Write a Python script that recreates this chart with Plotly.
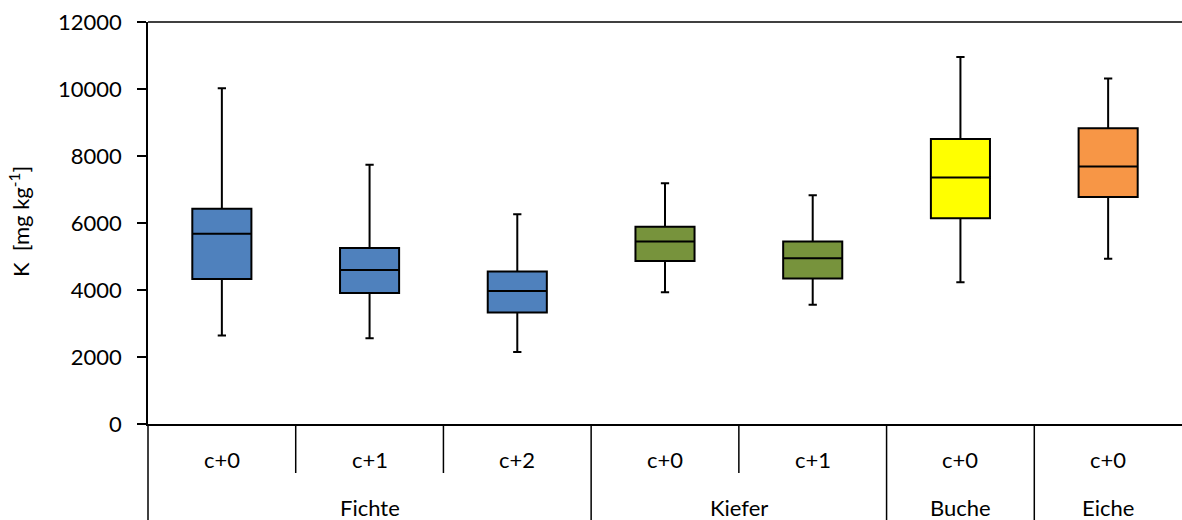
import plotly.graph_objects as go

# ---- data ----
species = ["Fichte", "Fichte", "Fichte", "Kiefer", "Kiefer", "Buche", "Eiche"]
classes = ["c+0", "c+1", "c+2", "c+0", "c+1", "c+0", "c+0"]
lower = [2640, 2560, 2150, 3930, 3560, 4230, 4935]
q1 = [4330, 3910, 3325, 4865, 4340, 6140, 6775]
median = [5680, 4600, 3970, 5445, 4945, 7355, 7690]
q3 = [6425, 5255, 4550, 5890, 5445, 8505, 8825]
upper = [10020, 7740, 6260, 7185, 6825, 10955, 10310]
colors = ["#4F81BD", "#4F81BD", "#4F81BD", "#77933C", "#77933C", "#FFFF00", "#F79646"]
groups = [("Fichte", 0, 2), ("Kiefer", 3, 4), ("Buche", 5, 5), ("Eiche", 6, 6)]
y_ticks = [0, 2000, 4000, 6000, 8000, 10000, 12000]

FONT = "Lato"
W, H = 1182, 520
ML, MR, MT, MB = 148, 0, 22, 96
ph = H - MT - MB

def py(pix):
    """pixel row -> paper y"""
    return (H - MB - pix) / ph

fig = go.Figure()
for i in range(len(classes)):
    fig.add_trace(go.Box(
        x=[i], q1=[q1[i]], median=[median[i]], q3=[q3[i]],
        lowerfence=[lower[i]], upperfence=[upper[i]],
        fillcolor=colors[i], line=dict(color="black", width=2),
        width=0.4, whiskerwidth=0.14, boxpoints=False,
        showlegend=False, hoverinfo="skip",
    ))

shapes = []
shapes.append(dict(type="line", xref="paper", yref="paper", x0=0, x1=1, y0=1, y1=1,
                   line=dict(color="black", width=1.5)))
shapes.append(dict(type="line", xref="paper", yref="paper", x0=0, x1=0, y0=0, y1=py(H),
                   line=dict(color="black", width=1.5)))
n = len(classes)
for i in range(1, n):
    outer = species[i] != species[i - 1]
    shapes.append(dict(type="line", xref="x", yref="paper", x0=i - 0.5, x1=i - 0.5,
                       y0=0, y1=py(H) if outer else py(473),
                       line=dict(color="black", width=1.5)))

annotations = []
for i, c in enumerate(classes):
    annotations.append(dict(x=i, y=py(459), xref="x", yref="paper", text=c,
                            showarrow=False, font=dict(family=FONT, size=22, color="black"),
                            xanchor="center", yanchor="middle"))
for name, a, b in groups:
    annotations.append(dict(x=(a + b) / 2, y=py(507), xref="x", yref="paper", text=name,
                            showarrow=False, font=dict(family=FONT, size=22, color="black"),
                            xanchor="center", yanchor="middle"))
annotations.append(dict(x=-(ML - 20) / (W - ML - MR), y=py(222), xref="paper", yref="paper",
                        text="K  [mg kg<sup>-1</sup>]", textangle=-90, showarrow=False,
                        font=dict(family=FONT, size=22, color="black"),
                        xanchor="center", yanchor="middle"))

fig.update_layout(
    width=W, height=H,
    margin=dict(l=ML, r=MR, t=MT, b=MB),
    paper_bgcolor="white", plot_bgcolor="white",
    font=dict(family=FONT, size=22, color="black"),
    xaxis=dict(range=[-0.5, n - 0.5], showticklabels=False, ticks="", showgrid=False,
               zeroline=False, showline=True, linecolor="black", linewidth=1.5, fixedrange=True),
    yaxis=dict(range=[0, 12000], tickvals=y_ticks, ticktext=[str(v) for v in y_ticks],
               ticks="outside", ticklen=9, tickcolor="black", tickwidth=1.5,
               showgrid=False, zeroline=False, showline=True, linecolor="black", linewidth=1.5,
               tickfont=dict(family=FONT, size=22, color="black"), ticklabelstandoff=11,
               fixedrange=True),
    shapes=shapes, annotations=annotations,
)

fig.write_html("out.html", config={"displayModeBar": False},
               post_script="document.body.style.margin='0';document.body.style.overflow='hidden';")
